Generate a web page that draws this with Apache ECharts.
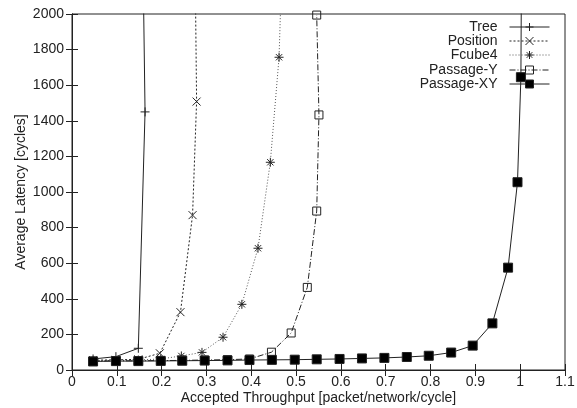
<!DOCTYPE html>
<html>
<head>
<meta charset="utf-8">
<script src="https://cdn.jsdelivr.net/npm/echarts@6/dist/echarts.min.js"></script>
<style>
  html, body { margin: 0; padding: 0; background: #fff; }
  #chart { width: 577px; height: 408px; }
</style>
</head>
<body>
<div id="chart"></div>
<script>
// [throughput, latency] pairs
const tree = [[0.047, 62], [0.098, 75], [0.148, 122], [0.163, 1450], [0.1595, 2100]]
const position = [[0.047, 55], [0.098, 57], [0.148, 60], [0.196, 94], [0.242, 325],
  [0.269, 870], [0.278, 1508], [0.2755, 2100]]
const fcube4 = [[0.047, 52], [0.098, 54], [0.148, 56], [0.198, 62], [0.244, 79],
  [0.29, 99], [0.337, 184], [0.379, 369], [0.415, 684], [0.4425, 1167],
  [0.462, 1757], [0.4662, 2100]]
const passageY = [[0.047, 50], [0.098, 51], [0.148, 52], [0.198, 53], [0.246, 54],
  [0.296, 56], [0.347, 58], [0.396, 62], [0.445, 100], [0.489, 208], [0.525, 464],
  [0.546, 893], [0.551, 1433], [0.546, 1994]]
const passageXY = [[0.047, 48], [0.098, 50], [0.148, 50], [0.198, 51], [0.246, 52],
  [0.296, 53], [0.347, 54], [0.396, 56], [0.446, 57], [0.497, 58], [0.546, 60],
  [0.597, 62], [0.647, 65], [0.697, 68], [0.747, 73], [0.796, 80], [0.846, 98],
  [0.894, 137], [0.938, 262], [0.973, 575], [0.994, 1055], [1.0016, 1645],
  [1.003, 2300]]

const seriesNames = ['Tree', 'Position', 'Fcube4', 'Passage-Y', 'Passage-XY']

const FONT = 'Liberation Sans'
const INK = '#222'

const chart = echarts.init(document.getElementById('chart'))

const mkLine = (name, data, symbol, size, dash, fill, lineColor) => ({
  name,
  type: 'line',
  data,
  symbol,
  symbolSize: size,
  clip: true,
  animation: false,
  lineStyle: { color: lineColor || INK, width: 1, type: dash },
  itemStyle: { color: fill, borderColor: INK, borderWidth: 1 },
  emphasis: { disabled: true }
})

const legendRows = [27, 41, 55, 70, 84]

chart.setOption({
  animation: false,
  textStyle: { fontFamily: FONT },
  grid: {
    left: 72, right: 12, top: 14, bottom: 38,
    outerBoundsMode: 'none',
    show: true, borderColor: INK, borderWidth: 1
  },
  legend: seriesNames.map((n, i) => ({
    data: [n],
    orient: 'vertical',
    align: 'right',
    right: 27,
    top: legendRows[i] - 7,
    padding: 0,
    itemWidth: 40,
    itemHeight: 10,
    selectedMode: false,
    lineStyle: { width: 1 },
    itemStyle: { borderWidth: 1 },
    textStyle: { fontFamily: FONT, fontSize: 14, color: INK, padding: [0, 7, 0, 0] }
  })),
  xAxis: [
    {
      type: 'value', min: 0, max: 1.1, interval: 0.1,
      name: 'Accepted Throughput [packet/network/cycle]',
      nameLocation: 'middle', nameGap: 21, nameMoveOverlap: false,
      nameTextStyle: { fontFamily: FONT, fontSize: 14, color: INK },
      axisLine: { show: true, lineStyle: { color: INK } },
      axisTick: { show: true, inside: true, length: 6, lineStyle: { color: INK } },
      axisLabel: { fontFamily: FONT, fontSize: 14, color: INK, margin: 5 },
      splitLine: { show: false }
    },
    {
      type: 'value', min: 0, max: 1.1, interval: 0.1, position: 'top',
      axisLine: { show: true, lineStyle: { color: INK } },
      axisTick: { show: true, inside: true, length: 6, lineStyle: { color: INK } },
      axisLabel: { show: false },
      splitLine: { show: false }
    }
  ],
  yAxis: [
    {
      type: 'value', min: 0, max: 2000, interval: 200,
      name: 'Average Latency [cycles]',
      nameLocation: 'middle', nameGap: 44, nameMoveOverlap: false,
      nameTextStyle: { fontFamily: FONT, fontSize: 14, color: INK },
      axisLine: { show: true, lineStyle: { color: INK } },
      axisTick: { show: true, inside: true, length: 6, lineStyle: { color: INK } },
      axisLabel: { fontFamily: FONT, fontSize: 14, color: INK, margin: 8, formatter: v => String(v) },
      splitLine: { show: false }
    },
    {
      type: 'value', min: 0, max: 2000, interval: 200, position: 'right',
      axisLine: { show: true, lineStyle: { color: INK } },
      axisTick: { show: true, inside: true, length: 6, lineStyle: { color: INK } },
      axisLabel: { show: false },
      splitLine: { show: false }
    }
  ],
  series: [
    mkLine('Tree', tree, 'path://M0,5L10,5M5,0L5,10', 9, 'solid', 'transparent'),
    mkLine('Position', position, 'path://M0,0L10,10M10,0L0,10', 8, [2, 2], 'transparent'),
    mkLine('Fcube4', fcube4, 'path://M0,5L10,5M5,0L5,10M1.5,1.5L8.5,8.5M8.5,1.5L1.5,8.5', 9, [1, 2], 'transparent', '#555'),
    mkLine('Passage-Y', passageY, 'rect', 8, [6, 2, 1, 2], 'transparent'),
    mkLine('Passage-XY', passageXY, 'rect', 9, 'solid', '#000')
  ]
})
</script>
</body>
</html>
